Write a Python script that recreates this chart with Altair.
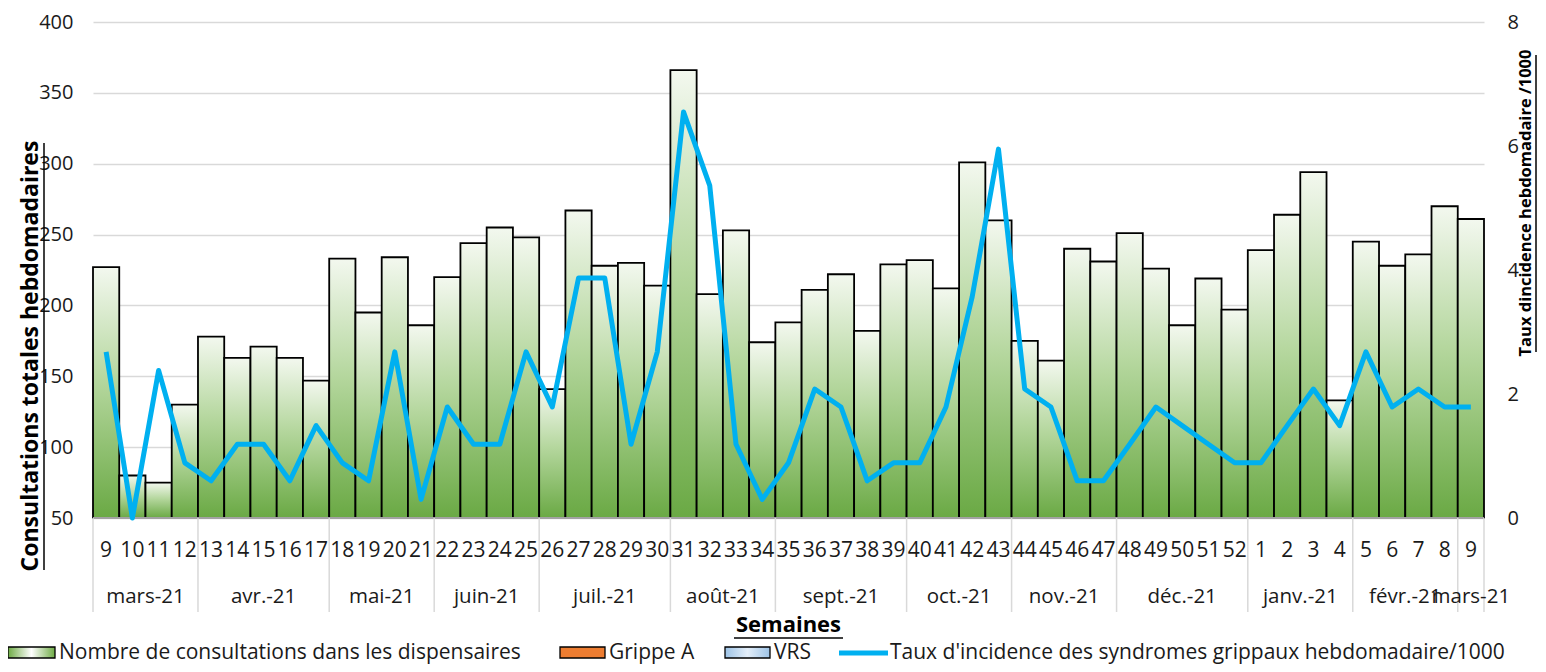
import altair as alt
import pandas as pd

# ---------------- data ----------------
weeks = [9, 10, 11, 12, 13, 14, 15, 16, 17, 18, 19, 20, 21, 22, 23, 24, 25, 26, 27, 28,
         29, 30, 31, 32, 33, 34, 35, 36, 37, 38, 39, 40, 41, 42, 43, 44, 45, 46, 47, 48,
         49, 50, 51, 52, 1, 2, 3, 4, 5, 6, 7, 8, 9]
consultations = [227, 80, 75, 130, 178, 163, 171, 163, 147, 233, 195, 234, 186, 220, 244, 255,
                 248, 141, 267, 228, 230, 214, 366, 208, 253, 174, 188, 211, 222, 182, 229, 232,
                 212, 301, 260, 175, 161, 240, 231, 251, 226, 186, 219, 197, 239, 264, 294, 133,
                 245, 228, 236, 270, 261]
incidence = [2.68, 0.0, 2.38, 0.89, 0.60, 1.19, 1.19, 0.60, 1.49, 0.89, 0.60, 2.68, 0.30, 1.79,
             1.19, 1.19, 2.68, 1.79, 3.87, 3.87, 1.19, 2.68, 6.55, 5.36, 1.19, 0.30, 0.89, 2.08,
             1.79, 0.60, 0.89, 0.89, 1.79, 3.57, 5.95, 2.08, 1.79, 0.60, 0.60, 1.19, 1.79, 1.49,
             1.19, 0.89, 0.89, 1.49, 2.08, 1.49, 2.68, 1.79, 2.08, 1.79, 1.79]
month_names = ["mars-21", "avr.-21", "mai-21", "juin-21", "juil.-21", "août-21", "sept.-21",
               "oct.-21", "nov.-21", "déc.-21", "janv.-21", "févr.-21", "mars-21"]
month_weeks = [4, 5, 4, 4, 5, 4, 5, 4, 4, 5, 4, 4, 1]
left_ticks = [50, 100, 150, 200, 250, 300, 350, 400]
right_ticks = [0, 2, 4, 6, 8]

legend_labels = ["Nombre de consultations dans les dispensaires", "Grippe A", "VRS",
                 "Taux d'incidence des syndromes grippaux hebdomadaire/1000"]
title_left = "Consultations totales hebdomadaires"
title_right = "Taux dincidence hebdomadaire /1000"
title_x = "Semaines"

# ---------------- tables ----------------
n = len(weeks)
df = pd.DataFrame({"i": list(range(n)), "week": [str(w) for w in weeks],
                   "cons": consultations, "rate": incidence})
df["i1"] = df["i"] + 1
df["mid"] = df["i"] + 0.5

starts, ends = [], []
s = 0
for c in month_weeks:
    starts.append(s)
    s += c
    ends.append(s)
mdf = pd.DataFrame({"month": month_names, "start": starts, "end": ends})
mdf["center"] = (mdf["start"] + mdf["end"]) / 2
bdf = pd.DataFrame({"b": [0] + ends})

W, H = 1391, 496
FONT = "Open Sans"
FS = 20
TXT = "#1a1a1a"
GRID = "#D9D9D9"

xscale = alt.Scale(domain=[0, n], nice=False, zero=False)

bar_fill = alt.Gradient(gradient="linear", x1=0, x2=0, y1=0, y2=1,
                        stops=[alt.GradientStop(offset=0, color="#f3f8ef"),
                               alt.GradientStop(offset=0.45, color="#b5d79e"),
                               alt.GradientStop(offset=1, color="#6aa944")])

bars = alt.Chart(df).mark_bar(fill=bar_fill, stroke="black", strokeWidth=1.8).encode(
    x=alt.X("i:Q", scale=xscale, axis=None),
    x2="i1:Q",
    y=alt.Y("cons:Q", scale=alt.Scale(domain=[50, 400], nice=False, zero=False),
            axis=alt.Axis(values=left_ticks, grid=True, gridColor=GRID, gridWidth=1.5,
                          domain=False, ticks=False, labelPadding=20, labelFontSize=FS,
                          labelFont=FONT, labelColor=TXT, title=None)),
    y2=alt.datum(50),
)

line = alt.Chart(df).mark_line(color="#00B0F0", strokeWidth=5, strokeJoin="round",
                               strokeCap="butt").encode(
    x=alt.X("mid:Q", scale=xscale, axis=None),
    y=alt.Y("rate:Q", scale=alt.Scale(domain=[0, 8], nice=False, zero=True),
            axis=alt.Axis(orient="right", values=right_ticks, grid=False, domain=False,
                          ticks=False, labelPadding=23, labelFontSize=FS, labelFont=FONT,
                          labelColor=TXT, title=None)),
)

baseline = alt.Chart(bdf.iloc[[0]]).mark_rule(color=GRID, strokeWidth=1.5).encode(
    x=alt.value(0), x2=alt.value(W), y=alt.value(H))

week_text = alt.Chart(df).mark_text(font=FONT, fontSize=21, color=TXT, baseline="middle").encode(
    x=alt.X("mid:Q", scale=xscale, axis=None),
    y=alt.value(529),
    text="week:N",
)

months = alt.Chart(mdf).mark_text(font=FONT, fontSize=20.5, color=TXT, baseline="middle").encode(
    x=alt.X("center:Q", scale=xscale, axis=None),
    y=alt.value(575),
    text="month:N",
)

seps = alt.Chart(bdf).mark_rule(color=GRID, strokeWidth=1.5).encode(
    x=alt.X("b:Q", scale=xscale, axis=None),
    y=alt.value(H),
    y2=alt.value(590),
)

tdf = pd.DataFrame({"t": [title_left, title_right, title_x]})

def one_text(idx, size, **kw):
    return alt.Chart(tdf.iloc[[idx]]).mark_text(font=FONT, fontSize=size, fontWeight="bold",
                                                  color="#000", baseline="middle", **kw)

t_left = one_text(0, 23, angle=270).encode(x=alt.value(-62), y=alt.value(334), text="t:N")
t_right = one_text(1, 16.5, angle=270).encode(x=alt.value(1433), y=alt.value(181), text="t:N")
t_x = one_text(2, 22).encode(x=alt.value(W / 2), y=alt.value(603), text="t:N")

u_left = alt.Chart(tdf.iloc[[0]]).mark_rule(color="#000", strokeWidth=1.5).encode(
    x=alt.value(-49), y=alt.value(121), y2=alt.value(548))
u_right = alt.Chart(tdf.iloc[[1]]).mark_rule(color="#000", strokeWidth=1.5).encode(
    x=alt.value(1443), y=alt.value(33), y2=alt.value(330))
u_x = alt.Chart(tdf.iloc[[2]]).mark_rule(color="#000", strokeWidth=1.5).encode(
    x=alt.value(641), x2=alt.value(750), y=alt.value(616))

# ---------------- legend ----------------
ldf = pd.DataFrame({"label": legend_labels})
LY = 631
LFS = 21
sw1_fill = alt.Gradient(gradient="linear", x1=0, x2=1, y1=0, y2=0,
                        stops=[alt.GradientStop(offset=0, color="#6eab45"),
                               alt.GradientStop(offset=0.5, color="#ffffff"),
                               alt.GradientStop(offset=1, color="#6eab45")])
sw3_fill = alt.Gradient(gradient="linear", x1=0, x2=1, y1=0, y2=0,
                        stops=[alt.GradientStop(offset=0, color="#9dc3e6"),
                               alt.GradientStop(offset=0.5, color="#e3eef9"),
                               alt.GradientStop(offset=1, color="#9dc3e6")])

def swatch(idx, x0, x1, fill):
    return alt.Chart(ldf.iloc[[idx]]).mark_rect(fill=fill, stroke="#000", strokeWidth=1.3).encode(
        x=alt.value(x0), x2=alt.value(x1), y=alt.value(LY - 6), y2=alt.value(LY + 5))

def ltext(idx, x0):
    return alt.Chart(ldf.iloc[[idx]]).mark_text(font=FONT, fontSize=LFS, color=TXT,
                                                  align="left", baseline="middle").encode(
        x=alt.value(x0), y=alt.value(LY), text="label:N")

leg = [
    swatch(0, -85, -38, sw1_fill), ltext(0, -34),
    swatch(1, 467, 512, "#ED7D31"), ltext(1, 516),
    swatch(2, 632, 677, sw3_fill), ltext(2, 681),
    alt.Chart(ldf.iloc[[3]]).mark_rule(color="#00B0F0", strokeWidth=5).encode(
        x=alt.value(746), x2=alt.value(795), y=alt.value(LY)),
    ltext(3, 797),
]

chart = alt.layer(bars, baseline, seps, line, week_text, months, t_left, t_right, t_x,
                  u_left, u_right, u_x, *leg
                  ).resolve_scale(y="independent").properties(
    width=W, height=H,
    background="white",
    autosize=alt.AutoSizeParams(type="none"),
    padding={"left": 85, "top": 14, "right": 54, "bottom": 146},
).configure_view(stroke=None)

chart.save("out.html", embed_options={"renderer": "svg", "actions": False})
